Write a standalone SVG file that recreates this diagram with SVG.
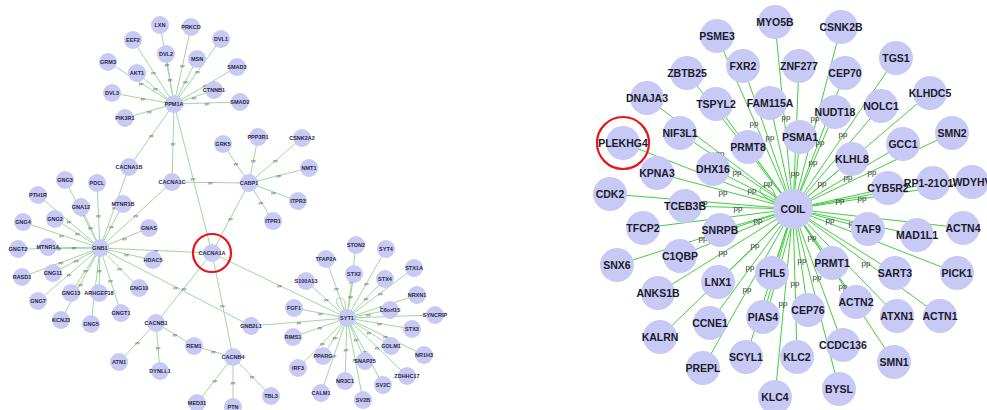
<svg xmlns="http://www.w3.org/2000/svg" width="987" height="410" viewBox="0 0 987 410">
<style>
.le line,.le path{stroke:#9fd89f;stroke-width:1;fill:none}
.re line,.re path{stroke:#3fcf3f;stroke-width:1;fill:none}
.ln{fill:#c9c9f6}
.rn{fill:#c9c9f6}
.lt{font-family:"Liberation Sans",Arial,sans-serif;font-weight:bold;font-size:5.5px;fill:#2a2a3a;text-anchor:middle;dominant-baseline:central}
.rt{font-family:"Liberation Sans",Arial,sans-serif;font-weight:bold;font-size:10.5px;fill:#1a1a2a;text-anchor:middle;dominant-baseline:central}
.lp text{font-family:"Liberation Sans",Arial,sans-serif;font-size:4px;fill:#555;text-anchor:middle;dominant-baseline:central}
.rp text{font-family:"Liberation Sans",Arial,sans-serif;font-size:8px;fill:#333;text-anchor:middle;dominant-baseline:central}
.hl{fill:none;stroke:#e8141c;stroke-width:2.2}
</style>
<rect width="987" height="410" fill="#ffffff"/>
<g id="connectors">
<g class="le">
<line x1="174" y1="104" x2="160" y2="25"/><line x1="174" y1="104" x2="191" y2="27"/><line x1="174" y1="104" x2="221" y2="39"/><line x1="174" y1="104" x2="133" y2="40"/><line x1="174" y1="104" x2="166" y2="54"/><line x1="174" y1="104" x2="197" y2="59"/><line x1="174" y1="104" x2="237" y2="67"/><line x1="174" y1="104" x2="108" y2="62"/><line x1="174" y1="104" x2="137" y2="73"/><line x1="174" y1="104" x2="214" y2="90"/><line x1="174" y1="104" x2="112" y2="93"/><line x1="174" y1="104" x2="240" y2="102"/><line x1="174" y1="104" x2="125" y2="118"/><line x1="174" y1="104" x2="129" y2="167"/><line x1="174" y1="104" x2="172" y2="182"/><line x1="174" y1="104" x2="212" y2="253"/>
<line x1="249" y1="183" x2="223" y2="144"/><line x1="249" y1="183" x2="258" y2="137"/><line x1="249" y1="183" x2="302" y2="138"/><line x1="249" y1="183" x2="309" y2="168"/><line x1="249" y1="183" x2="298" y2="201"/><line x1="249" y1="183" x2="273" y2="221"/><line x1="249" y1="183" x2="172" y2="182"/><line x1="249" y1="183" x2="212" y2="253"/>
<line x1="100" y1="248" x2="65" y2="180"/><line x1="100" y1="248" x2="97" y2="183"/><line x1="100" y1="248" x2="38" y2="195"/><line x1="100" y1="248" x2="81" y2="207"/><line x1="100" y1="248" x2="123" y2="204"/><line x1="100" y1="248" x2="55" y2="219"/><line x1="100" y1="248" x2="23" y2="222"/><line x1="100" y1="248" x2="149" y2="228"/><line x1="100" y1="248" x2="48" y2="247"/><line x1="100" y1="248" x2="18" y2="249"/><line x1="100" y1="248" x2="153" y2="260"/><line x1="100" y1="248" x2="22" y2="277"/><line x1="100" y1="248" x2="53" y2="273"/><line x1="100" y1="248" x2="139" y2="288"/><line x1="100" y1="248" x2="71" y2="293"/><line x1="100" y1="248" x2="99" y2="293"/><line x1="100" y1="248" x2="38" y2="301"/><line x1="100" y1="248" x2="121" y2="313"/><line x1="100" y1="248" x2="61" y2="320"/><line x1="100" y1="248" x2="91" y2="324"/><line x1="100" y1="248" x2="129" y2="167"/><line x1="100" y1="248" x2="172" y2="182"/><line x1="100" y1="248" x2="212" y2="253"/><line x1="100" y1="248" x2="251" y2="326"/>
<line x1="212" y1="253" x2="156" y2="323"/><line x1="212" y1="253" x2="233" y2="357"/><line x1="212" y1="253" x2="347" y2="318"/>
<line x1="156" y1="323" x2="119" y2="362"/><line x1="156" y1="323" x2="160" y2="371"/><line x1="156" y1="323" x2="194" y2="346"/><line x1="194" y1="346" x2="233" y2="357"/>
<line x1="233" y1="357" x2="197" y2="403"/><line x1="233" y1="357" x2="233" y2="407"/><line x1="233" y1="357" x2="271" y2="396"/>
<line x1="251" y1="326" x2="347" y2="318"/>
<line x1="347" y1="318" x2="356" y2="245"/><line x1="347" y1="318" x2="386" y2="249"/><line x1="347" y1="318" x2="326" y2="259"/><line x1="347" y1="318" x2="414" y2="268"/><line x1="347" y1="318" x2="354" y2="274"/><line x1="347" y1="318" x2="385" y2="279"/><line x1="347" y1="318" x2="306" y2="281"/><line x1="347" y1="318" x2="417" y2="295"/><line x1="347" y1="318" x2="294" y2="308"/><line x1="347" y1="318" x2="390" y2="310"/><line x1="347" y1="318" x2="435" y2="315"/><line x1="347" y1="318" x2="293" y2="337"/><line x1="347" y1="318" x2="412" y2="329"/><line x1="347" y1="318" x2="391" y2="346"/><line x1="347" y1="318" x2="424" y2="355"/><line x1="347" y1="318" x2="323" y2="356"/><line x1="347" y1="318" x2="365" y2="361"/><line x1="347" y1="318" x2="298" y2="368"/><line x1="347" y1="318" x2="407" y2="376"/><line x1="347" y1="318" x2="345" y2="381"/><line x1="347" y1="318" x2="383" y2="385"/><line x1="347" y1="318" x2="321" y2="393"/><line x1="347" y1="318" x2="363" y2="400"/>
<path d="M343,311 C336,306 334,298 340,298 C345,298 346,305 345,311"/>
</g>
<g class="re">
<line x1="793" y1="209" x2="717" y2="36"/><line x1="793" y1="209" x2="775" y2="22"/><line x1="793" y1="209" x2="841" y2="27"/><line x1="793" y1="209" x2="743" y2="66"/><line x1="793" y1="209" x2="799" y2="66"/><line x1="793" y1="209" x2="845" y2="73"/><line x1="793" y1="209" x2="896" y2="58"/><line x1="793" y1="209" x2="687" y2="73"/><line x1="793" y1="209" x2="647" y2="98"/><line x1="793" y1="209" x2="716" y2="104"/><line x1="793" y1="209" x2="770" y2="103"/><line x1="793" y1="209" x2="930" y2="93"/><line x1="793" y1="209" x2="881" y2="106"/><line x1="793" y1="209" x2="835" y2="112"/><line x1="793" y1="209" x2="680" y2="133"/><line x1="793" y1="209" x2="800" y2="137"/><line x1="793" y1="209" x2="952" y2="133"/><line x1="793" y1="209" x2="623" y2="143"/><line x1="793" y1="209" x2="903" y2="144"/><line x1="793" y1="209" x2="748" y2="147"/><line x1="793" y1="209" x2="852" y2="159"/><line x1="793" y1="209" x2="713" y2="169"/><line x1="793" y1="209" x2="657" y2="173"/><line x1="793" y1="209" x2="972" y2="182"/><line x1="793" y1="209" x2="933" y2="183"/><line x1="793" y1="209" x2="888" y2="188"/><line x1="793" y1="209" x2="610" y2="194"/><line x1="793" y1="209" x2="685" y2="206"/><line x1="793" y1="209" x2="643" y2="228"/><line x1="793" y1="209" x2="868" y2="229"/><line x1="793" y1="209" x2="963" y2="228"/><line x1="793" y1="209" x2="720" y2="230"/><line x1="793" y1="209" x2="917" y2="235"/><line x1="793" y1="209" x2="680" y2="256"/><line x1="793" y1="209" x2="832" y2="263"/><line x1="793" y1="209" x2="617" y2="265"/><line x1="793" y1="209" x2="895" y2="273"/><line x1="793" y1="209" x2="957" y2="273"/><line x1="793" y1="209" x2="772" y2="273"/><line x1="793" y1="209" x2="718" y2="282"/><line x1="793" y1="209" x2="658" y2="293"/><line x1="793" y1="209" x2="856" y2="302"/><line x1="793" y1="209" x2="808" y2="310"/><line x1="793" y1="209" x2="763" y2="317"/><line x1="796" y1="209" x2="766" y2="317"/><line x1="793" y1="209" x2="897" y2="316"/><line x1="793" y1="209" x2="940" y2="316"/><line x1="793" y1="209" x2="710" y2="323"/><line x1="793" y1="209" x2="660" y2="337"/><line x1="793" y1="209" x2="843" y2="345"/><line x1="793" y1="209" x2="746" y2="357"/><line x1="793" y1="209" x2="797" y2="357"/><line x1="793" y1="209" x2="894" y2="362"/><line x1="793" y1="209" x2="703" y2="368"/><line x1="793" y1="209" x2="839" y2="389"/><line x1="793" y1="209" x2="775" y2="397"/>
<path d="M775,203 C760,196 756,188 764,186 C771,184 776,192 775,201"/>
</g>
</g>
<g class="lp">
<text x="167" y="64.5">pp</text><text x="182.5" y="65.5">pp</text><text x="197.5" y="71.5">pp</text><text x="153.5" y="72">pp</text><text x="170" y="79">pp</text><text x="185.5" y="81.5">pp</text><text x="205.5" y="85.5">pp</text><text x="141" y="83">pp</text><text x="155.5" y="88.5">pp</text><text x="194" y="97">pp</text><text x="143" y="98.5">pp</text><text x="207" y="103">pp</text><text x="149.5" y="111">pp</text><text x="151.5" y="135.5">pp</text><text x="173" y="143">pp</text><text x="193" y="178.5">pp</text>
<text x="236" y="163.5">pp</text><text x="253.5" y="160">pp</text><text x="275.5" y="160.5">pp</text><text x="279" y="175.5">pp</text><text x="273.5" y="192">pp</text><text x="261" y="202">pp</text><text x="210.5" y="182.5">pp</text><text x="230.5" y="218">pp</text>
<text x="82.5" y="214">pp</text><text x="98.5" y="215.5">pp</text><text x="69" y="221.5">pp</text><text x="90.5" y="227.5">pp</text><text x="111.5" y="226">pp</text><text x="77.5" y="233.5">pp</text><text x="61.5" y="235">pp</text><text x="124.5" y="238">pp</text><text x="74" y="247.5">pp</text><text x="59" y="248.5">pp</text><text x="126.5" y="254">pp</text><text x="61" y="262.5">pp</text><text x="76.5" y="260.5">pp</text><text x="119.5" y="268">pp</text><text x="85.5" y="270.5">pp</text><text x="99.5" y="270.5">pp</text><text x="69" y="274.5">pp</text><text x="110.5" y="280.5">pp</text><text x="80.5" y="284">pp</text><text x="95.5" y="286">pp</text><text x="114.5" y="207.5">pp</text><text x="136" y="215">pp</text><text x="156" y="250.5">pp</text><text x="175.5" y="287">pp</text>
<text x="184" y="288">pp</text><text x="222.5" y="305">pp</text><text x="279.5" y="285.5">pp</text><text x="137.5" y="342.5">pp</text><text x="158" y="347">pp</text><text x="175" y="334.5">pp</text><text x="213.5" y="351.5">pp</text><text x="215" y="380">pp</text><text x="233" y="382">pp</text><text x="252" y="376.5">pp</text><text x="299" y="322">pp</text>
<text x="351.5" y="281.5">pp</text><text x="366.5" y="283.5">pp</text><text x="336.5" y="288.5">pp</text><text x="380.5" y="293">pp</text><text x="350.5" y="296">pp</text><text x="366" y="298.5">pp</text><text x="326.5" y="299.5">pp</text><text x="382" y="306.5">pp</text><text x="320.5" y="313">pp</text><text x="368.5" y="314">pp</text><text x="391" y="316.5">pp</text><text x="320" y="327.5">pp</text><text x="379.5" y="323.5">pp</text><text x="369" y="332">pp</text><text x="385.5" y="336.5">pp</text><text x="335" y="337">pp</text><text x="356" y="339.5">pp</text><text x="322.5" y="343">pp</text><text x="377" y="347">pp</text><text x="346" y="349.5">pp</text><text x="365" y="351.5">pp</text><text x="334" y="355.5">pp</text><text x="355" y="359">pp</text>
</g>
<g class="rp">
<text x="754" y="123">pp</text><text x="770" y="137">pp</text><text x="786" y="117">pp</text><text x="815" y="118">pp</text><text x="843" y="134">pp</text><text x="720" y="153">pp</text><text x="737" y="172">pp</text><text x="768" y="183">pp</text><text x="723" y="192">pp</text><text x="752" y="190">pp</text><text x="703" y="202">pp</text><text x="738" y="208">pp</text><text x="758" y="220">pp</text><text x="703" y="238">pp</text><text x="723" y="252">pp</text><text x="755" y="245">pp</text><text x="820" y="142">pp</text><text x="813" y="162">pp</text><text x="795" y="173">pp</text><text x="848" y="177">pp</text><text x="872" y="172">pp</text><text x="822" y="183">pp</text><text x="840" y="200">pp</text><text x="862" y="198">pp</text><text x="830" y="220">pp</text><text x="853" y="223">pp</text><text x="812" y="237">pp</text><text x="802" y="260">pp</text><text x="866" y="263">pp</text><text x="750" y="267">pp</text><text x="747" y="289">pp</text><text x="795" y="283">pp</text><text x="783" y="303">pp</text><text x="817" y="277">pp</text><text x="843" y="286">pp</text>
</g>
<g id="nodes-left">
<g id="PPM1A"><circle class="ln" cx="174" cy="104" r="9"/><text class="lt" x="174" y="104">PPM1A</text></g>
<g id="LXN"><circle class="ln" cx="160" cy="25" r="9"/><text class="lt" x="160" y="25">LXN</text></g>
<g id="PRKCD"><circle class="ln" cx="191" cy="27" r="9"/><text class="lt" x="191" y="27">PRKCD</text></g>
<g id="DVL1"><circle class="ln" cx="221" cy="39" r="9"/><text class="lt" x="221" y="39">DVL1</text></g>
<g id="EEF2"><circle class="ln" cx="133" cy="40" r="9"/><text class="lt" x="133" y="40">EEF2</text></g>
<g id="DVL2"><circle class="ln" cx="166" cy="54" r="9"/><text class="lt" x="166" y="54">DVL2</text></g>
<g id="MSN"><circle class="ln" cx="197" cy="59" r="9"/><text class="lt" x="197" y="59">MSN</text></g>
<g id="SMAD3"><circle class="ln" cx="237" cy="67" r="9"/><text class="lt" x="237" y="67">SMAD3</text></g>
<g id="GRM3"><circle class="ln" cx="108" cy="62" r="9"/><text class="lt" x="108" y="62">GRM3</text></g>
<g id="AKT1"><circle class="ln" cx="137" cy="73" r="9"/><text class="lt" x="137" y="73">AKT1</text></g>
<g id="CTNNB1"><circle class="ln" cx="214" cy="90" r="9"/><text class="lt" x="214" y="90">CTNNB1</text></g>
<g id="DVL3"><circle class="ln" cx="112" cy="93" r="9"/><text class="lt" x="112" y="93">DVL3</text></g>
<g id="SMAD2"><circle class="ln" cx="240" cy="102" r="9"/><text class="lt" x="240" y="102">SMAD2</text></g>
<g id="PIK3R1"><circle class="ln" cx="125" cy="118" r="9"/><text class="lt" x="125" y="118">PIK3R1</text></g>
<g id="GRK5"><circle class="ln" cx="223" cy="144" r="9"/><text class="lt" x="223" y="144">GRK5</text></g>
<g id="PPP3R1"><circle class="ln" cx="258" cy="137" r="9"/><text class="lt" x="258" y="137">PPP3R1</text></g>
<g id="CSNK2A2"><circle class="ln" cx="302" cy="138" r="9"/><text class="lt" x="302" y="138">CSNK2A2</text></g>
<g id="NMT1"><circle class="ln" cx="309" cy="168" r="9"/><text class="lt" x="309" y="168">NMT1</text></g>
<g id="CACNA1C"><circle class="ln" cx="172" cy="182" r="9"/><text class="lt" x="172" y="182">CACNA1C</text></g>
<g id="CABP1"><circle class="ln" cx="249" cy="183" r="9"/><text class="lt" x="249" y="183">CABP1</text></g>
<g id="ITPR3"><circle class="ln" cx="298" cy="201" r="9"/><text class="lt" x="298" y="201">ITPR3</text></g>
<g id="ITPR1"><circle class="ln" cx="273" cy="221" r="9"/><text class="lt" x="273" y="221">ITPR1</text></g>
<g id="CACNA1A"><circle class="ln" cx="212" cy="253" r="9"/><text class="lt" x="212" y="253">CACNA1A</text></g>
<g id="CACNA1B"><circle class="ln" cx="129" cy="167" r="9"/><text class="lt" x="129" y="167">CACNA1B</text></g>
<g id="GNG3"><circle class="ln" cx="65" cy="180" r="9"/><text class="lt" x="65" y="180">GNG3</text></g>
<g id="PDCL"><circle class="ln" cx="97" cy="183" r="9"/><text class="lt" x="97" y="183">PDCL</text></g>
<g id="PTH1R"><circle class="ln" cx="38" cy="195" r="9"/><text class="lt" x="38" y="195">PTH1R</text></g>
<g id="GNA12"><circle class="ln" cx="81" cy="207" r="9"/><text class="lt" x="81" y="207">GNA12</text></g>
<g id="MTNR1B"><circle class="ln" cx="123" cy="204" r="9"/><text class="lt" x="123" y="204">MTNR1B</text></g>
<g id="GNG2"><circle class="ln" cx="55" cy="219" r="9"/><text class="lt" x="55" y="219">GNG2</text></g>
<g id="GNG4"><circle class="ln" cx="23" cy="222" r="9"/><text class="lt" x="23" y="222">GNG4</text></g>
<g id="GNAS"><circle class="ln" cx="149" cy="228" r="9"/><text class="lt" x="149" y="228">GNAS</text></g>
<g id="MTNR1A"><circle class="ln" cx="48" cy="247" r="9"/><text class="lt" x="48" y="247">MTNR1A</text></g>
<g id="GNB1"><circle class="ln" cx="100" cy="248" r="9"/><text class="lt" x="100" y="248">GNB1</text></g>
<g id="GNGT2"><circle class="ln" cx="18" cy="249" r="9"/><text class="lt" x="18" y="249">GNGT2</text></g>
<g id="HDAC5"><circle class="ln" cx="153" cy="260" r="9"/><text class="lt" x="153" y="260">HDAC5</text></g>
<g id="RASD1"><circle class="ln" cx="22" cy="277" r="9"/><text class="lt" x="22" y="277">RASD1</text></g>
<g id="GNG11"><circle class="ln" cx="53" cy="273" r="9"/><text class="lt" x="53" y="273">GNG11</text></g>
<g id="GNG10"><circle class="ln" cx="139" cy="288" r="9"/><text class="lt" x="139" y="288">GNG10</text></g>
<g id="GNG13"><circle class="ln" cx="71" cy="293" r="9"/><text class="lt" x="71" y="293">GNG13</text></g>
<g id="ARHGEF18"><circle class="ln" cx="99" cy="293" r="9"/><text class="lt" x="99" y="293">ARHGEF18</text></g>
<g id="GNG7"><circle class="ln" cx="38" cy="301" r="9"/><text class="lt" x="38" y="301">GNG7</text></g>
<g id="GNGT1"><circle class="ln" cx="121" cy="313" r="9"/><text class="lt" x="121" y="313">GNGT1</text></g>
<g id="KCNJ3"><circle class="ln" cx="61" cy="320" r="9"/><text class="lt" x="61" y="320">KCNJ3</text></g>
<g id="GNG5"><circle class="ln" cx="91" cy="324" r="9"/><text class="lt" x="91" y="324">GNG5</text></g>
<g id="CACNB1"><circle class="ln" cx="156" cy="323" r="9"/><text class="lt" x="156" y="323">CACNB1</text></g>
<g id="GNB2L1"><circle class="ln" cx="251" cy="326" r="9"/><text class="lt" x="251" y="326">GNB2L1</text></g>
<g id="REM1"><circle class="ln" cx="194" cy="346" r="9"/><text class="lt" x="194" y="346">REM1</text></g>
<g id="CACNB4"><circle class="ln" cx="233" cy="357" r="9"/><text class="lt" x="233" y="357">CACNB4</text></g>
<g id="ATN1"><circle class="ln" cx="119" cy="362" r="9"/><text class="lt" x="119" y="362">ATN1</text></g>
<g id="DYNLL1"><circle class="ln" cx="160" cy="371" r="9"/><text class="lt" x="160" y="371">DYNLL1</text></g>
<g id="MED31"><circle class="ln" cx="197" cy="403" r="9"/><text class="lt" x="197" y="403">MED31</text></g>
<g id="PTN"><circle class="ln" cx="233" cy="407" r="9"/><text class="lt" x="233" y="407">PTN</text></g>
<g id="TBL3"><circle class="ln" cx="271" cy="396" r="9"/><text class="lt" x="271" y="396">TBL3</text></g>
<g id="SYT1"><circle class="ln" cx="347" cy="318" r="9"/><text class="lt" x="347" y="318">SYT1</text></g>
<g id="STON2"><circle class="ln" cx="356" cy="245" r="9"/><text class="lt" x="356" y="245">STON2</text></g>
<g id="SYT4"><circle class="ln" cx="386" cy="249" r="9"/><text class="lt" x="386" y="249">SYT4</text></g>
<g id="TFAP2A"><circle class="ln" cx="326" cy="259" r="9"/><text class="lt" x="326" y="259">TFAP2A</text></g>
<g id="STX1A"><circle class="ln" cx="414" cy="268" r="9"/><text class="lt" x="414" y="268">STX1A</text></g>
<g id="STX2"><circle class="ln" cx="354" cy="274" r="9"/><text class="lt" x="354" y="274">STX2</text></g>
<g id="STX4"><circle class="ln" cx="385" cy="279" r="9"/><text class="lt" x="385" y="279">STX4</text></g>
<g id="S100A13"><circle class="ln" cx="306" cy="281" r="9"/><text class="lt" x="306" y="281">S100A13</text></g>
<g id="NRXN1"><circle class="ln" cx="417" cy="295" r="9"/><text class="lt" x="417" y="295">NRXN1</text></g>
<g id="FGF1"><circle class="ln" cx="294" cy="308" r="9"/><text class="lt" x="294" y="308">FGF1</text></g>
<g id="C6orf15"><circle class="ln" cx="390" cy="310" r="9"/><text class="lt" x="390" y="310">C6orf15</text></g>
<g id="SYNCRIP"><circle class="ln" cx="435" cy="315" r="9"/><text class="lt" x="435" y="315">SYNCRIP</text></g>
<g id="RIMS1"><circle class="ln" cx="293" cy="337" r="9"/><text class="lt" x="293" y="337">RIMS1</text></g>
<g id="STX3"><circle class="ln" cx="412" cy="329" r="9"/><text class="lt" x="412" y="329">STX3</text></g>
<g id="GOLM1"><circle class="ln" cx="391" cy="346" r="9"/><text class="lt" x="391" y="346">GOLM1</text></g>
<g id="NR1H3"><circle class="ln" cx="424" cy="355" r="9"/><text class="lt" x="424" y="355">NR1H3</text></g>
<g id="PPARG"><circle class="ln" cx="323" cy="356" r="9"/><text class="lt" x="323" y="356">PPARG</text></g>
<g id="SNAP25"><circle class="ln" cx="365" cy="361" r="9"/><text class="lt" x="365" y="361">SNAP25</text></g>
<g id="IRF3"><circle class="ln" cx="298" cy="368" r="9"/><text class="lt" x="298" y="368">IRF3</text></g>
<g id="ZDHHC17"><circle class="ln" cx="407" cy="376" r="9"/><text class="lt" x="407" y="376">ZDHHC17</text></g>
<g id="NR3C1"><circle class="ln" cx="345" cy="381" r="9"/><text class="lt" x="345" y="381">NR3C1</text></g>
<g id="SV2C"><circle class="ln" cx="383" cy="385" r="9"/><text class="lt" x="383" y="385">SV2C</text></g>
<g id="CALM1"><circle class="ln" cx="321" cy="393" r="9"/><text class="lt" x="321" y="393">CALM1</text></g>
<g id="SV2B"><circle class="ln" cx="363" cy="400" r="9"/><text class="lt" x="363" y="400">SV2B</text></g>
</g>
<g id="nodes-right">
<g id="COIL"><circle class="rn" cx="793" cy="209" r="20"/><text class="rt" x="793" y="209">COIL</text></g>
<g id="PSME3"><circle class="rn" cx="717" cy="36" r="17"/><text class="rt" x="717" y="36">PSME3</text></g>
<g id="MYO5B"><circle class="rn" cx="775" cy="22" r="17"/><text class="rt" x="775" y="22">MYO5B</text></g>
<g id="CSNK2B"><circle class="rn" cx="841" cy="27" r="17"/><text class="rt" x="841" y="27">CSNK2B</text></g>
<g id="FXR2"><circle class="rn" cx="743" cy="66" r="17"/><text class="rt" x="743" y="66">FXR2</text></g>
<g id="ZNF277"><circle class="rn" cx="799" cy="66" r="17"/><text class="rt" x="799" y="66">ZNF277</text></g>
<g id="CEP70"><circle class="rn" cx="845" cy="73" r="17"/><text class="rt" x="845" y="73">CEP70</text></g>
<g id="TGS1"><circle class="rn" cx="896" cy="58" r="17"/><text class="rt" x="896" y="58">TGS1</text></g>
<g id="ZBTB25"><circle class="rn" cx="687" cy="73" r="17"/><text class="rt" x="687" y="73">ZBTB25</text></g>
<g id="DNAJA3"><circle class="rn" cx="647" cy="98" r="17"/><text class="rt" x="647" y="98">DNAJA3</text></g>
<g id="TSPYL2"><circle class="rn" cx="716" cy="104" r="17"/><text class="rt" x="716" y="104">TSPYL2</text></g>
<g id="FAM115A"><circle class="rn" cx="770" cy="103" r="17"/><text class="rt" x="770" y="103">FAM115A</text></g>
<g id="KLHDC5"><circle class="rn" cx="930" cy="93" r="17"/><text class="rt" x="930" y="93">KLHDC5</text></g>
<g id="NOLC1"><circle class="rn" cx="881" cy="106" r="17"/><text class="rt" x="881" y="106">NOLC1</text></g>
<g id="NUDT18"><circle class="rn" cx="835" cy="112" r="17"/><text class="rt" x="835" y="112">NUDT18</text></g>
<g id="NIF3L1"><circle class="rn" cx="680" cy="133" r="17"/><text class="rt" x="680" y="133">NIF3L1</text></g>
<g id="PSMA1"><circle class="rn" cx="800" cy="137" r="17"/><text class="rt" x="800" y="137">PSMA1</text></g>
<g id="SMN2"><circle class="rn" cx="952" cy="133" r="17"/><text class="rt" x="952" y="133">SMN2</text></g>
<g id="PLEKHG4"><circle class="rn" cx="623" cy="143" r="17"/><text class="rt" x="623" y="143">PLEKHG4</text></g>
<g id="GCC1"><circle class="rn" cx="903" cy="144" r="17"/><text class="rt" x="903" y="144">GCC1</text></g>
<g id="PRMT8"><circle class="rn" cx="748" cy="147" r="17"/><text class="rt" x="748" y="147">PRMT8</text></g>
<g id="KLHL8"><circle class="rn" cx="852" cy="159" r="17"/><text class="rt" x="852" y="159">KLHL8</text></g>
<g id="DHX16"><circle class="rn" cx="713" cy="169" r="17"/><text class="rt" x="713" y="169">DHX16</text></g>
<g id="KPNA3"><circle class="rn" cx="657" cy="173" r="17"/><text class="rt" x="657" y="173">KPNA3</text></g>
<g id="CYB5R2"><circle class="rn" cx="888" cy="188" r="17"/><text class="rt" x="888" y="188">CYB5R2</text></g>
<g id="RP1-21O18"><circle class="rn" cx="933" cy="183" r="17"/><text class="rt" x="933" y="183">RP1-21O18.</text></g>
<g id="WDYHV"><circle class="rn" cx="972" cy="182" r="17"/><text class="rt" x="972" y="182">WDYHV</text></g>
<g id="CDK2"><circle class="rn" cx="610" cy="194" r="17"/><text class="rt" x="610" y="194">CDK2</text></g>
<g id="TCEB3B"><circle class="rn" cx="685" cy="206" r="17"/><text class="rt" x="685" y="206">TCEB3B</text></g>
<g id="TFCP2"><circle class="rn" cx="643" cy="228" r="17"/><text class="rt" x="643" y="228">TFCP2</text></g>
<g id="TAF9"><circle class="rn" cx="868" cy="229" r="17"/><text class="rt" x="868" y="229">TAF9</text></g>
<g id="ACTN4"><circle class="rn" cx="963" cy="228" r="17"/><text class="rt" x="963" y="228">ACTN4</text></g>
<g id="SNRPB"><circle class="rn" cx="720" cy="230" r="17"/><text class="rt" x="720" y="230">SNRPB</text></g>
<g id="MAD1L1"><circle class="rn" cx="917" cy="235" r="17"/><text class="rt" x="917" y="235">MAD1L1</text></g>
<g id="C1QBP"><circle class="rn" cx="680" cy="256" r="17"/><text class="rt" x="680" y="256">C1QBP</text></g>
<g id="PRMT1"><circle class="rn" cx="832" cy="263" r="17"/><text class="rt" x="832" y="263">PRMT1</text></g>
<g id="SNX6"><circle class="rn" cx="617" cy="265" r="17"/><text class="rt" x="617" y="265">SNX6</text></g>
<g id="SART3"><circle class="rn" cx="895" cy="273" r="17"/><text class="rt" x="895" y="273">SART3</text></g>
<g id="PICK1"><circle class="rn" cx="957" cy="273" r="17"/><text class="rt" x="957" y="273">PICK1</text></g>
<g id="FHL5"><circle class="rn" cx="772" cy="273" r="17"/><text class="rt" x="772" y="273">FHL5</text></g>
<g id="LNX1"><circle class="rn" cx="718" cy="282" r="17"/><text class="rt" x="718" y="282">LNX1</text></g>
<g id="ANKS1B"><circle class="rn" cx="658" cy="293" r="17"/><text class="rt" x="658" y="293">ANKS1B</text></g>
<g id="ACTN2"><circle class="rn" cx="856" cy="302" r="17"/><text class="rt" x="856" y="302">ACTN2</text></g>
<g id="CEP76"><circle class="rn" cx="808" cy="310" r="17"/><text class="rt" x="808" y="310">CEP76</text></g>
<g id="PIAS4"><circle class="rn" cx="763" cy="317" r="17"/><text class="rt" x="763" y="317">PIAS4</text></g>
<g id="ATXN1"><circle class="rn" cx="897" cy="316" r="17"/><text class="rt" x="897" y="316">ATXN1</text></g>
<g id="ACTN1"><circle class="rn" cx="940" cy="316" r="17"/><text class="rt" x="940" y="316">ACTN1</text></g>
<g id="CCNE1"><circle class="rn" cx="710" cy="323" r="17"/><text class="rt" x="710" y="323">CCNE1</text></g>
<g id="KALRN"><circle class="rn" cx="660" cy="337" r="17"/><text class="rt" x="660" y="337">KALRN</text></g>
<g id="CCDC136"><circle class="rn" cx="843" cy="345" r="17"/><text class="rt" x="843" y="345">CCDC136</text></g>
<g id="SCYL1"><circle class="rn" cx="746" cy="357" r="17"/><text class="rt" x="746" y="357">SCYL1</text></g>
<g id="KLC2"><circle class="rn" cx="797" cy="357" r="17"/><text class="rt" x="797" y="357">KLC2</text></g>
<g id="SMN1"><circle class="rn" cx="894" cy="362" r="17"/><text class="rt" x="894" y="362">SMN1</text></g>
<g id="PREPL"><circle class="rn" cx="703" cy="368" r="17"/><text class="rt" x="703" y="368">PREPL</text></g>
<g id="BYSL"><circle class="rn" cx="839" cy="389" r="17"/><text class="rt" x="839" y="389">BYSL</text></g>
<g id="KLC4"><circle class="rn" cx="775" cy="397" r="17"/><text class="rt" x="775" y="397">KLC4</text></g>
</g>
<g id="highlights">
<circle class="hl" cx="212" cy="253" r="19"/>
<circle class="hl" cx="623" cy="143" r="26"/>
</g>
</svg>
